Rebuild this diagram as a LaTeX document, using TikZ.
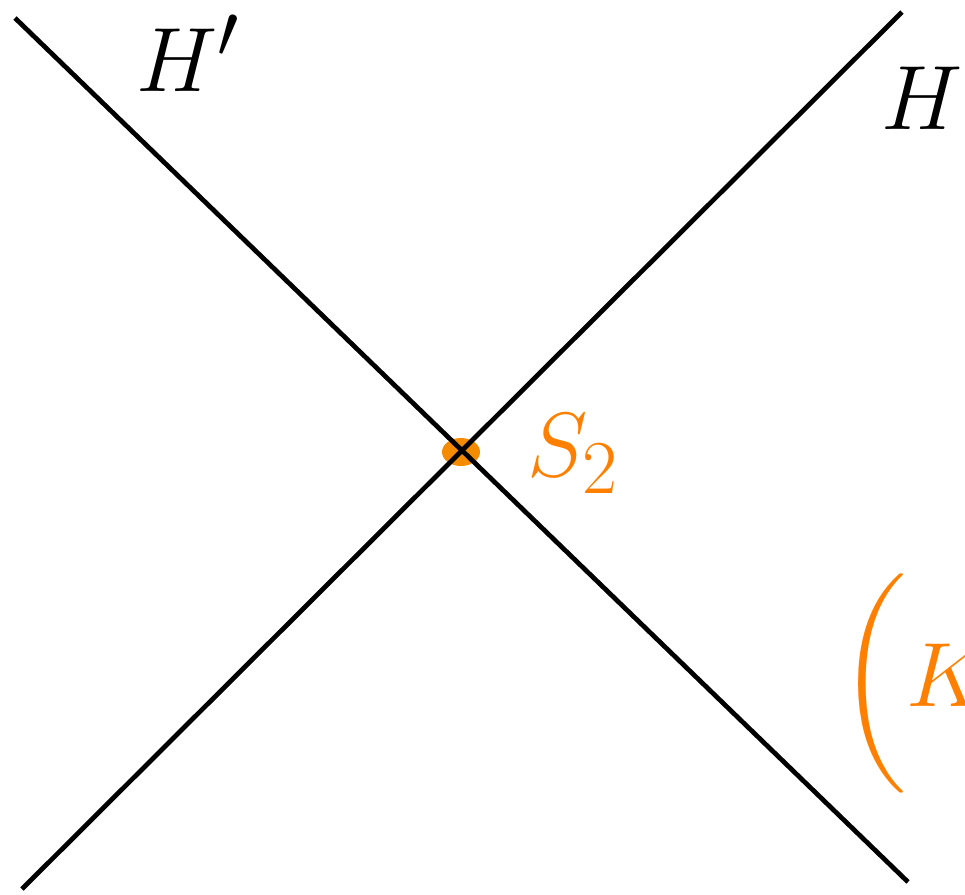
\documentclass[tikz,border=0pt]{standalone}
\usepackage{amsmath}
\usetikzlibrary{positioning,shapes.geometric}
\definecolor{sorange}{RGB}{255,128,0}
\definecolor{dotorange}{RGB}{245,140,0}

\begin{document}
\begin{tikzpicture}[
      x=0.02cm, y=-0.02cm,
      plane/.style={line width=2.7pt, black},
      lab/.style={font=\Huge, scale=2.09, inner sep=0pt},
      pt/.style={ellipse, fill=dotorange, minimum width=0.76cm, minimum height=0.56cm, inner sep=0pt}
    ]
    \useasboundingbox (0,0) rectangle (965,894);
    \clip (0,0) rectangle (965,894);
    % the two lines and where they meet
    \coordinate (hpa) at (15,18);
    \coordinate (hpb) at (908,882);
    \coordinate (ha) at (902,12);
    \coordinate (hb) at (22,889);
    \node[pt] (s2) at (461,452) {};
    \draw[plane] (hpa) -- (hpb);
    \draw[plane] (ha) -- (hb);
    % labels
    \node[lab, anchor=base west] (hplab) at (136,91) {$H'$};
    \node[lab, anchor=base west] (hlab) at (881,129) {$H$};
    \node[lab, anchor=base west, text=sorange] (s2lab) at (527,476) {$S_2$};
    \node[lab, anchor=base west, text=sorange] (klab) at (839,706) {$\bigg(K$};
  \end{tikzpicture}
\end{document}
